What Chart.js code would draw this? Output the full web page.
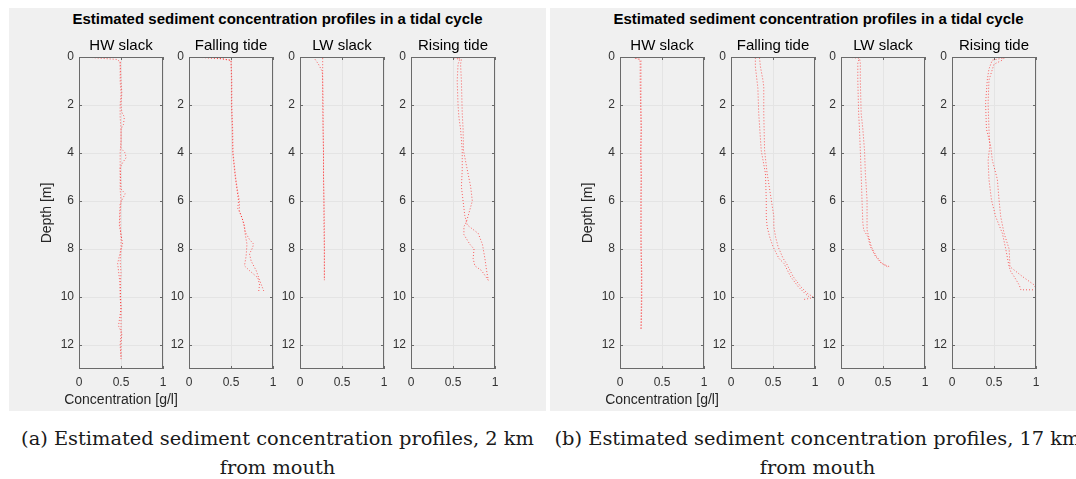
<!DOCTYPE html>
<html>
<head>
<meta charset="utf-8">
<script src="https://cdn.jsdelivr.net/npm/chart.js@4.4.1/dist/chart.umd.min.js"></script>
<style>
  html, body { margin: 0; padding: 0; background: #fff; }
  body { position: relative; width: 1076px; height: 479px; overflow: hidden;
         font-family: "Liberation Sans", Arial, sans-serif; }
  .panel { position: absolute; top: 8px; width: 537px; height: 403px; background: #f0f0f0; }
  .panel .head { position: absolute; left: 0; right: 0; top: 3px; line-height: 16px;
                 text-align: center; font-weight: bold; font-size: 15px; color: #000; }
  .fig { position: absolute; }
  .caption { position: absolute; top: 424px; width: 537px; text-align: center;
             font-family: "DejaVu Serif", serif; font-size: 19.4px; line-height: 29px;
             color: #1a1a1a; white-space: nowrap; }
</style>
</head>
<body>
<div class="panel" style="left:9px"><div class="head">Estimated sediment concentration profiles in a tidal cycle</div></div>
<div class="panel" style="left:550px"><div class="head">Estimated sediment concentration profiles in a tidal cycle</div></div>

<canvas class="fig" id="a0" width="152" height="386"></canvas>
<canvas class="fig" id="a1" width="152" height="386"></canvas>
<canvas class="fig" id="a2" width="152" height="386"></canvas>
<canvas class="fig" id="a3" width="152" height="386"></canvas>
<canvas class="fig" id="b0" width="152" height="386"></canvas>
<canvas class="fig" id="b1" width="152" height="386"></canvas>
<canvas class="fig" id="b2" width="152" height="386"></canvas>
<canvas class="fig" id="b3" width="152" height="386"></canvas>

<div class="caption" style="left:9px">(a) Estimated sediment concentration profiles, 2 km<br>from mouth</div>
<div class="caption" style="left:549px">(b) Estimated sediment concentration profiles, 17 km<br>from mouth</div>

<script>
// ---- axes ----
const concTicks = [0, 0.5, 1];
const depthTicks = [0, 2, 4, 6, 8, 10, 12];
const phaseNames = ['HW slack', 'Falling tide', 'LW slack', 'Rising tide'];

// ---- station 2 km from mouth: depth [m] / concentration [g/l], down- and up-cast ----
const hw2DownDepth = [0, 0.05, 0.1, 0.2, 0.5, 1, 1.5, 2, 2.5, 3, 3.5, 4, 4.5, 5, 5.5, 6, 6.5, 7, 7.5, 8, 8.5, 9, 9.5, 10, 10.5, 11, 11.5, 12, 12.5];
const hw2DownConc  = [0.08, 0.25, 0.45, 0.49, 0.49, 0.49, 0.50, 0.49, 0.49, 0.50, 0.50, 0.49, 0.49, 0.49, 0.49, 0.50, 0.49, 0.49, 0.50, 0.50, 0.49, 0.50, 0.49, 0.49, 0.50, 0.50, 0.50, 0.49, 0.50];
const hw2UpDepth   = [0.2, 1, 1.5, 2, 2.3, 2.5, 2.8, 3, 3.8, 4.0, 4.2, 4.4, 4.6, 5.5, 5.7, 5.9, 6.1, 7, 7.8, 8, 8.6, 8.9, 9.5, 10.5, 11.2, 11.5, 12, 12.6];
const hw2UpConc    = [0.49, 0.50, 0.51, 0.50, 0.51, 0.54, 0.53, 0.50, 0.50, 0.55, 0.56, 0.52, 0.49, 0.50, 0.55, 0.52, 0.49, 0.48, 0.52, 0.50, 0.46, 0.47, 0.49, 0.50, 0.47, 0.51, 0.50, 0.50];

const fall2DownDepth = [0, 0.04, 0.13, 1, 2, 3, 4, 4.5, 5, 5.5, 6, 6.4, 6.8, 7.3, 7.6, 7.8, 8.0, 8.2, 8.5, 8.9, 9.3, 9.75];
const fall2DownConc  = [0.01, 0.33, 0.50, 0.51, 0.51, 0.52, 0.525, 0.54, 0.555, 0.575, 0.60, 0.60, 0.64, 0.67, 0.72, 0.77, 0.75, 0.72, 0.74, 0.80, 0.84, 0.89];
const fall2UpDepth   = [9.75, 9.5, 9.2, 8.9, 8.7, 8.3, 7.8, 7.4, 7.0, 6.6, 6.3, 6.0, 5.5, 5, 4.5, 4, 3, 2, 1, 0.15, 0.08, 0.03, 0];
const fall2UpConc    = [0.83, 0.84, 0.82, 0.72, 0.66, 0.68, 0.69, 0.67, 0.66, 0.62, 0.58, 0.59, 0.57, 0.55, 0.535, 0.52, 0.515, 0.505, 0.505, 0.50, 0.40, 0.20, 0.02];

const lw2DownDepth = [0.05, 1, 2, 3, 4, 5, 6, 7, 8, 9, 9.3];
const lw2DownConc  = [0.27, 0.27, 0.275, 0.275, 0.28, 0.28, 0.285, 0.285, 0.29, 0.29, 0.29];
const lw2UpDepth   = [0.1, 0.3, 0.6, 1, 2, 3, 4, 5, 6, 7, 8, 9, 9.3];
const lw2UpConc    = [0.18, 0.22, 0.265, 0.27, 0.27, 0.275, 0.28, 0.28, 0.285, 0.29, 0.29, 0.29, 0.29];

const rise2DownDepth = [0, 0.1, 0.3, 1, 2, 2.5, 3, 3.9, 4.7, 5.4, 6.0, 6.6, 7.0, 7.35, 7.8, 8.4, 8.9, 9.3];
const rise2DownConc  = [0.48, 0.58, 0.56, 0.55, 0.56, 0.57, 0.59, 0.61, 0.61, 0.60, 0.62, 0.64, 0.67, 0.80, 0.85, 0.88, 0.90, 0.92];
const rise2UpDepth   = [9.3, 8.9, 8.7, 8.4, 8.0, 7.8, 7.4, 7.07, 6.86, 6.5, 6.0, 5.4, 4.7, 3.9, 3.0, 2.35, 1, 0.3, 0.1, 0];
const rise2UpConc    = [0.92, 0.84, 0.76, 0.74, 0.75, 0.70, 0.63, 0.63, 0.66, 0.69, 0.73, 0.71, 0.67, 0.625, 0.62, 0.61, 0.60, 0.59, 0.60, 0.52];

// ---- station 17 km from mouth ----
const hw17DownDepth = [0, 0.02, 0.1, 0.2, 1, 2, 3, 4, 5, 6, 7, 8, 9, 10, 11, 11.4];
const hw17DownConc  = [0.0, 0.15, 0.23, 0.24, 0.24, 0.245, 0.25, 0.245, 0.25, 0.25, 0.25, 0.25, 0.255, 0.255, 0.25, 0.25];
const hw17UpDepth   = [0, 0.05, 0.15, 1, 2, 3, 4, 5, 6, 7.5, 8.5, 9, 10, 11, 11.4];
const hw17UpConc    = [0.12, 0.22, 0.25, 0.25, 0.25, 0.255, 0.25, 0.255, 0.25, 0.25, 0.255, 0.26, 0.26, 0.255, 0.25];

const fall17DownDepth = [0, 0.02, 0.05, 0.4, 1, 1.3, 2.35, 3.9, 4.85, 5.96, 6.65, 7.07, 7.49, 7.9, 8.39, 8.6, 9.15, 9.57, 9.85, 10.05, 10.1];
const fall17DownConc  = [0.0, 0.27, 0.29, 0.29, 0.31, 0.32, 0.33, 0.36, 0.41, 0.42, 0.42, 0.43, 0.46, 0.50, 0.57, 0.63, 0.71, 0.80, 0.88, 0.95, 0.87];
const fall17UpDepth   = [10.1, 10.0, 9.85, 9.57, 9.15, 8.6, 8.39, 7.9, 7.49, 7.07, 6.65, 5.96, 4.85, 3.9, 2.35, 1.24, 0.96, 0.4, 0.05, 0.02, 0];
const fall17UpConc    = [1.0, 0.98, 0.91, 0.83, 0.74, 0.66, 0.62, 0.56, 0.53, 0.51, 0.51, 0.48, 0.43, 0.40, 0.39, 0.39, 0.38, 0.35, 0.34, 0.30, 0.10];

const lw17DownDepth = [0, 0.02, 0.26, 0.96, 2.35, 3, 3.9, 4.85, 5.96, 6.9, 7.2, 7.49, 7.9, 8.3, 8.6, 8.7, 8.74];
const lw17DownConc  = [0.0, 0.22, 0.20, 0.20, 0.21, 0.22, 0.23, 0.24, 0.25, 0.26, 0.27, 0.32, 0.35, 0.41, 0.48, 0.55, 0.58];
const lw17UpDepth   = [8.74, 8.6, 8.3, 7.9, 7.49, 7.2, 6.65, 5.96, 4.85, 3.9, 3.0, 2.35, 0.96, 0.26, 0.05, 0];
const lw17UpConc    = [0.55, 0.49, 0.42, 0.36, 0.33, 0.31, 0.31, 0.31, 0.29, 0.28, 0.26, 0.24, 0.23, 0.23, 0.22, 0.05];

const rise17DownDepth = [0.05, 0.13, 0.5, 0.96, 1.93, 3.0, 3.7, 4.3, 5.1, 5.96, 6.65, 7.35, 8.0, 8.74, 9.15, 9.5, 9.65];
const rise17DownConc  = [0.60, 0.48, 0.44, 0.42, 0.40, 0.41, 0.46, 0.48, 0.54, 0.56, 0.58, 0.62, 0.68, 0.69, 0.84, 0.98, 1.0];
const rise17UpDepth   = [9.7, 9.7, 9.5, 9.15, 8.94, 8.74, 8.0, 7.35, 6.65, 5.96, 5.1, 4.3, 3.7, 3.0, 1.93, 0.96, 0.3, 0.13, 0.05];
const rise17UpConc    = [1.0, 0.82, 0.80, 0.74, 0.70, 0.68, 0.64, 0.60, 0.52, 0.47, 0.44, 0.43, 0.45, 0.44, 0.43, 0.44, 0.50, 0.60, 0.62];

// ---- layout of the subplot axes (left edge of each plot box, px) ----
// canvas width 152 = 48 (depth axis) + 84 (plot box) + 20 (room for the wide x label)
const AXIS_LEFT = 48, PAD_RIGHT = 20, CANVAS_TOP = 28, PAD_TOP = 29, XAXIS_H = 45;
const SANS = '"Liberation Sans", Arial, sans-serif';

const profile = (depth, conc) => depth.map((d, i) => ({ x: conc[i], y: d }));

const subplots = [
  { id: 'a0', left: 79,  first: true,  casts: [[hw2DownDepth, hw2DownConc], [hw2UpDepth, hw2UpConc]] },
  { id: 'a1', left: 189, first: false, casts: [[fall2DownDepth, fall2DownConc], [fall2UpDepth, fall2UpConc]] },
  { id: 'a2', left: 300, first: false, casts: [[lw2DownDepth, lw2DownConc], [lw2UpDepth, lw2UpConc]] },
  { id: 'a3', left: 411, first: false, casts: [[rise2DownDepth, rise2DownConc], [rise2UpDepth, rise2UpConc]] },
  { id: 'b0', left: 620, first: true,  casts: [[hw17DownDepth, hw17DownConc], [hw17UpDepth, hw17UpConc]] },
  { id: 'b1', left: 731, first: false, casts: [[fall17DownDepth, fall17DownConc], [fall17UpDepth, fall17UpConc]] },
  { id: 'b2', left: 841, first: false, casts: [[lw17DownDepth, lw17DownConc], [lw17UpDepth, lw17UpConc]] },
  { id: 'b3', left: 952, first: false, casts: [[rise17DownDepth, rise17DownConc], [rise17UpDepth, rise17UpConc]] }
];

// subplot title above the plot box, and the concentration label below the first box
// (drawn here so the label may run wider than the narrow plot box)
const boxLabels = {
  id: 'boxLabels',
  afterDraw(chart, args, opts) {
    const { ctx, chartArea: a } = chart;
    const cx = (a.left + a.right) / 2;
    ctx.save();
    ctx.textAlign = 'center';
    ctx.textBaseline = 'middle';
    ctx.font = '15px ' + SANS;
    ctx.fillStyle = '#000';
    ctx.fillText(opts.title, cx, a.top - 11);
    if (opts.xLabel) {
      ctx.font = '14px ' + SANS;
      ctx.fillStyle = '#262626';
      ctx.fillText(opts.xLabel, cx, a.bottom + 31);
    }
    ctx.restore();
  }
};

// closed box with short inward tick marks on all four sides
const boxTicks = {
  id: 'boxTicks',
  afterDraw(chart) {
    const { ctx, chartArea: a, scales } = chart;
    const L = 3;
    ctx.save();
    ctx.strokeStyle = '#6a6a6a';
    ctx.lineWidth = 1;
    ctx.beginPath();
    scales.x.ticks.forEach(t => {
      const px = Math.round(scales.x.getPixelForValue(t.value)) + 0.5;
      ctx.moveTo(px, a.bottom); ctx.lineTo(px, a.bottom - L);
      ctx.moveTo(px, a.top); ctx.lineTo(px, a.top + L);
    });
    scales.y.ticks.forEach(t => {
      const py = Math.round(scales.y.getPixelForValue(t.value)) + 0.5;
      ctx.moveTo(a.left, py); ctx.lineTo(a.left + L, py);
      ctx.moveTo(a.right, py); ctx.lineTo(a.right - L, py);
    });
    ctx.stroke();
    ctx.strokeRect(a.left + 0.5, a.top + 0.5, a.right - a.left - 1, a.bottom - a.top - 1);
    ctx.restore();
  }
};

// Chart.js default family (Helvetica/Arial) resolves to the installed Arial-metric sans
const tickFont = { size: 12 };
const labelFont = { size: 14 };

subplots.forEach((sp, k) => {
  const canvas = document.getElementById(sp.id);
  canvas.style.left = (sp.left - AXIS_LEFT) + 'px';
  canvas.style.top = CANVAS_TOP + 'px';
  new Chart(canvas, {
    type: 'scatter',
    data: {
      datasets: sp.casts.map(([d, c]) => ({
        data: profile(d, c),
        showLine: true,
        borderColor: 'rgba(255, 0, 0, 0.62)',
        borderWidth: 1,
        borderDash: [1, 2],
        pointRadius: 0,
        tension: 0,
        fill: false
      }))
    },
    options: {
      responsive: false,
      animation: false,
      devicePixelRatio: 1,
      layout: { padding: { top: PAD_TOP, right: PAD_RIGHT, bottom: 0, left: 0 } },
      plugins: {
        legend: { display: false },
        tooltip: { enabled: false },
        boxLabels: { title: phaseNames[k % 4], xLabel: sp.first ? 'Concentration [g/l]' : '' }
      },
      scales: {
        x: {
          type: 'linear', min: 0, max: 1,
          afterBuildTicks: s => { s.ticks = concTicks.map(v => ({ value: v })); },
          afterFit: s => { s.height = XAXIS_H; },
          ticks: { padding: 6, font: tickFont, color: '#333', maxRotation: 0, callback: v => String(v) },
          grid: { color: '#e4e4e4', drawTicks: false },
          border: { display: false }
        },
        y: {
          type: 'linear', min: 0, max: 13, reverse: true,
          afterBuildTicks: s => { s.ticks = depthTicks.map(v => ({ value: v })); },
          afterFit: s => { s.width = AXIS_LEFT; },
          ticks: { padding: 5, font: tickFont, color: '#333', callback: v => String(v) },
          grid: { color: '#e4e4e4', drawTicks: false },
          border: { display: false },
          title: { display: sp.first, text: 'Depth [m]', font: labelFont, color: '#262626',
                   padding: { top: 8, bottom: 0 } }
        }
      }
    },
    plugins: [boxLabels, boxTicks]
  });
});
</script>
</body>
</html>
